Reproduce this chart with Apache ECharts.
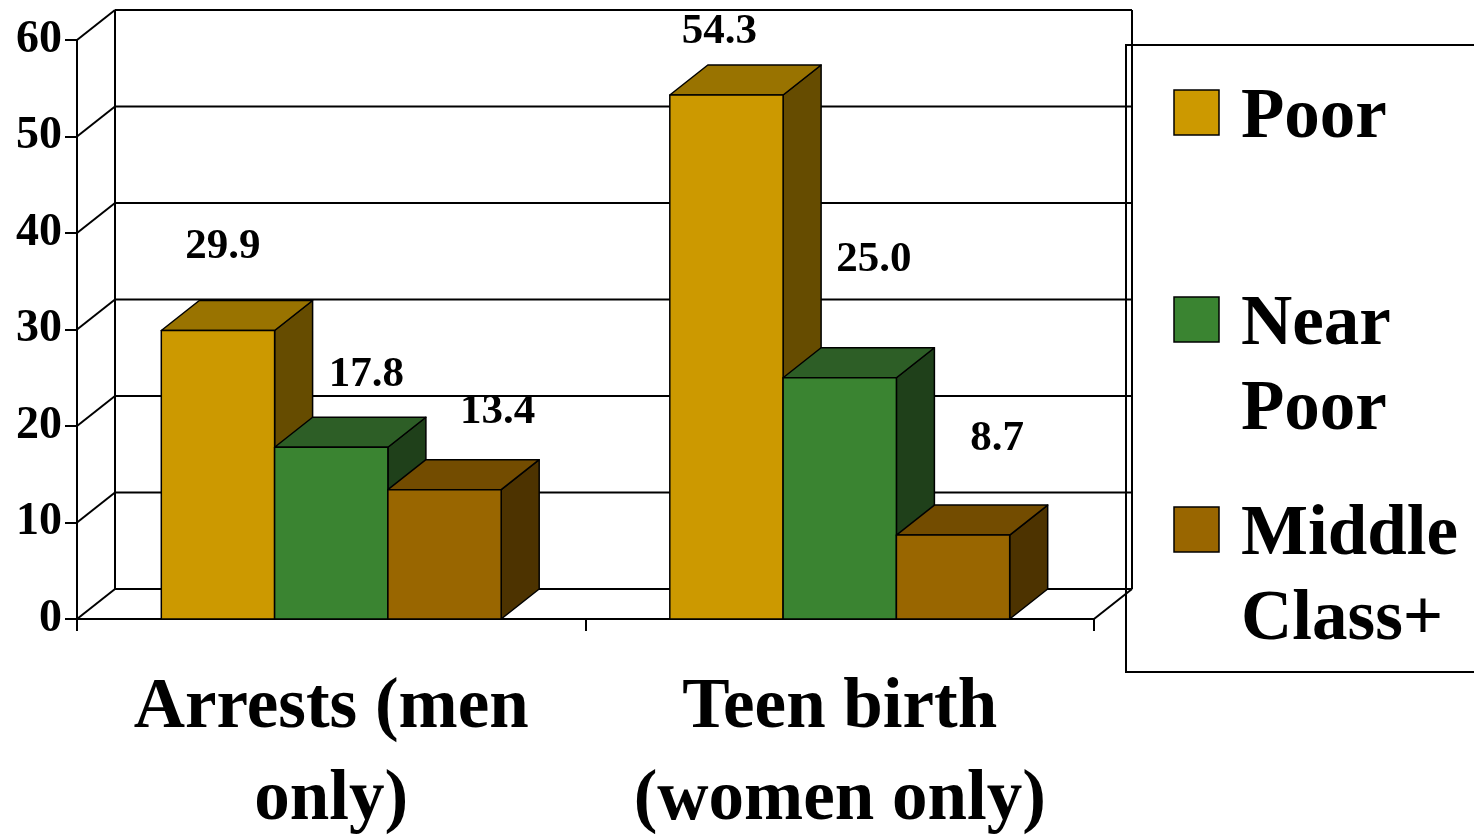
<!DOCTYPE html>
<html>
<head>
<meta charset="utf-8">
<title>Arrests and teen births by income group</title>
<script src="https://cdn.jsdelivr.net/npm/echarts@6/dist/echarts.min.js"></script>
<style>
  html, body { margin: 0; padding: 0; background: #ffffff; }
  #chart { width: 1474px; height: 836px; }
</style>
</head>
<body>
<div id="chart"></div>
<script>
// ---- data ----
const categories = ['Arrests (men\nonly)', 'Teen birth\n(women only)'];
const seriesNames = ['Poor', 'Near Poor', 'Middle Class+'];
const poor = [29.9, 54.3];
const nearPoor = [17.8, 25.0];
const middleClass = [13.4, 8.7];
const yTicks = [0, 10, 20, 30, 40, 50, 60];

// ---- look ----
const FONT = 'Liberation Serif';
const DEPTH_X = 38;      // 3D depth offset of the back wall / bar backs
const DEPTH_Y = -30;
const BAR_FRAC = 0.2228; // bar width as share of a category band
const faceColors = [
  { front: '#CC9900', top: '#997300', side: '#664C00' },
  { front: '#3A8431', top: '#2D5E26', side: '#1F401A' },
  { front: '#996600', top: '#734C00', side: '#4D3300' }
];
// value label shift from the top-front centre of each bar [series][category]
const labelNudge = [
  [[5, -84], [-7, -63]],
  [[35, -72], [34, -118]],
  [[53, -78], [44, -96]]
];
const legendRowY = [90, 297, 507];

const chart = echarts.init(document.getElementById('chart'), null, { renderer: 'canvas' });

const LINE = { stroke: '#000000', lineWidth: 2 };

// back wall, floor and the slanted grid lines
function renderWall(params, api) {
  const cs = params.coordSys;
  const y = api.coord([0, api.value(0)])[1];
  const left = cs.x, right = cs.x + cs.width;
  const children = [
    { type: 'line', shape: { x1: left + DEPTH_X, y1: y + DEPTH_Y, x2: right + DEPTH_X, y2: y + DEPTH_Y }, style: LINE },
    { type: 'line', shape: { x1: left, y1: y, x2: left + DEPTH_X, y2: y + DEPTH_Y }, style: LINE }
  ];
  if (params.dataIndex === 0) {
    const yTop = api.coord([0, yTicks[yTicks.length - 1]])[1];
    children.push(
      { type: 'line', shape: { x1: left + DEPTH_X, y1: yTop + DEPTH_Y, x2: left + DEPTH_X, y2: y + DEPTH_Y }, style: LINE },
      { type: 'line', shape: { x1: right + DEPTH_X, y1: yTop + DEPTH_Y, x2: right + DEPTH_X, y2: y + DEPTH_Y }, style: LINE },
      { type: 'line', shape: { x1: right, y1: y, x2: right + DEPTH_X, y2: y + DEPTH_Y }, style: LINE }
    );
  }
  return { type: 'group', children: children };
}

function makeBarRenderer(sIdx) {
  const c = faceColors[sIdx];
  return function (params, api) {
    const cat = api.value(0);
    const val = api.value(1);
    const base = api.coord([cat, 0]);
    const top = api.coord([cat, val]);
    const band = api.size([1, 0])[0];
    const w = band * BAR_FRAC;
    const cx = base[0] + (sIdx - 1) * w;
    const x0 = cx - w / 2, x1 = cx + w / 2;
    const yb = base[1], yt = top[1];
    const edge = { stroke: '#000000', lineWidth: 1.5, lineJoin: 'round' };
    const nudge = labelNudge[sIdx][params.dataIndex];
    return {
      type: 'group',
      children: [
        { type: 'polygon', shape: { points: [[x1, yt], [x1 + DEPTH_X, yt + DEPTH_Y], [x1 + DEPTH_X, yb + DEPTH_Y], [x1, yb]] },
          style: Object.assign({ fill: c.side }, edge) },
        { type: 'polygon', shape: { points: [[x0, yt], [x1, yt], [x1 + DEPTH_X, yt + DEPTH_Y], [x0 + DEPTH_X, yt + DEPTH_Y]] },
          style: Object.assign({ fill: c.top }, edge) },
        { type: 'rect', shape: { x: x0, y: yt, width: w, height: yb - yt },
          style: Object.assign({ fill: c.front }, edge) },
        { type: 'text', x: cx + nudge[0], y: yt + nudge[1],
          style: { text: val.toFixed(1), fill: '#000000', font: 'bold 43px "' + FONT + '"', align: 'center', verticalAlign: 'middle' } }
      ]
    };
  };
}

const seriesValues = [poor, nearPoor, middleClass];

const barSeries = seriesValues.map(function (vals, i) {
  return {
    type: 'custom',
    name: seriesNames[i],
    z: 3 + i,
    renderItem: makeBarRenderer(i),
    encode: { x: 0, y: 1 },
    data: vals.map(function (v, k) { return [k, v]; })
  };
});

// legend box built from the series names and colours
const legendChildren = [
  { type: 'rect', shape: { x: 1126, y: 45, width: 420, height: 627 },
    style: { fill: '#ffffff', stroke: '#000000', lineWidth: 2 } }
];
seriesNames.forEach(function (name, i) {
  const y = legendRowY[i];
  legendChildren.push(
    { type: 'rect', shape: { x: 1174, y: y, width: 45, height: 45 },
      style: { fill: faceColors[i].front, stroke: '#000000', lineWidth: 1.5 } },
    { type: 'text', x: 1241, y: y - 13.5,
      style: { text: name.replace(' ', '\n'), fill: '#000000', font: 'bold 71px "' + FONT + '"',
               lineHeight: 85, verticalAlign: 'top', align: 'left' } }
  );
});

const option = {
  backgroundColor: '#ffffff',
  animation: false,
  grid: { left: 77, top: 40, width: 1017, height: 579, containLabel: false, outerBoundsMode: 'none' },
  xAxis: {
    type: 'category',
    data: categories,
    boundaryGap: true,
    axisLine: { show: true, lineStyle: { color: '#000000', width: 2 } },
    axisTick: { show: true, length: 12, lineStyle: { color: '#000000', width: 2 } },
    axisLabel: { color: '#000000', fontFamily: FONT, fontWeight: 'bold', fontSize: 71, lineHeight: 92, margin: 44, interval: 0 },
    splitLine: { show: false }
  },
  yAxis: {
    type: 'value',
    min: 0, max: 60, interval: 10,
    axisLine: { show: true, lineStyle: { color: '#000000', width: 2 } },
    axisTick: { show: true, length: 12, lineStyle: { color: '#000000', width: 2 } },
    axisLabel: { color: '#000000', fontFamily: FONT, fontWeight: 'bold', fontSize: 46, margin: 15 },
    splitLine: { show: false }
  },
  graphic: { elements: [{ type: 'group', z: 100, children: legendChildren }] },
  series: [
    {
      type: 'custom',
      name: 'wall',
      z: 1,
      silent: true,
      renderItem: renderWall,
      encode: { y: 0 },
      data: yTicks.map(function (v) { return [v]; })
    }
  ].concat(barSeries)
};

chart.setOption(option);
</script>
</body>
</html>
